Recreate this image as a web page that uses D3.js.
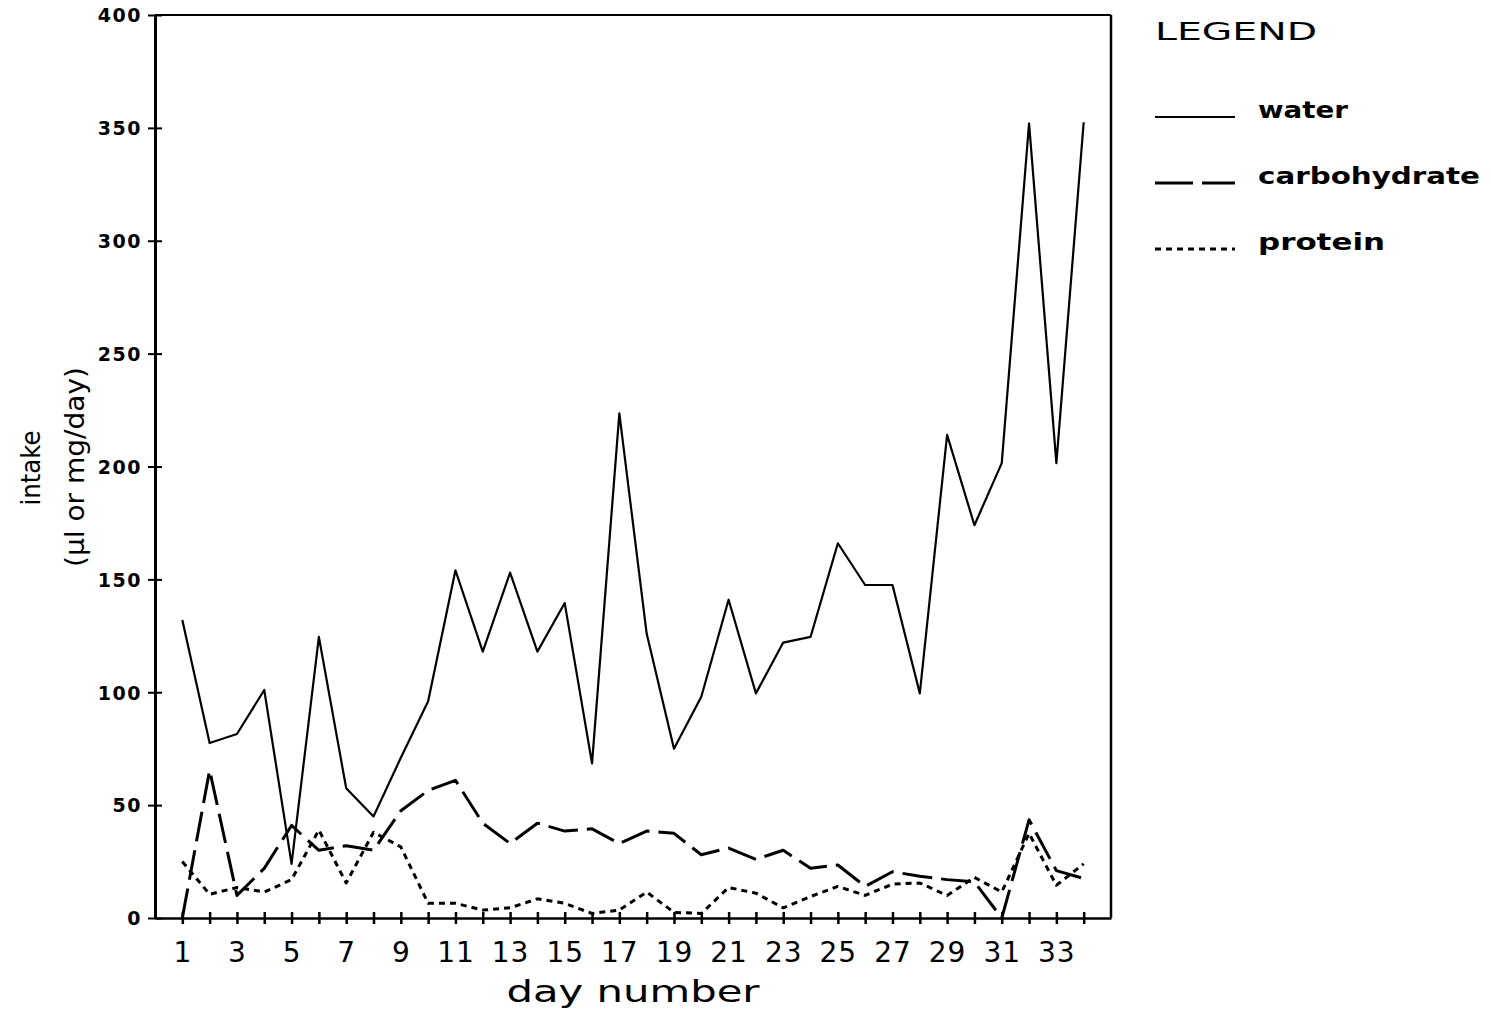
<!DOCTYPE html>
<html>
<head>
<meta charset="utf-8">
<script src="https://cdn.jsdelivr.net/npm/d3@7"></script>
<style>
  html, body { margin: 0; padding: 0; background: #fff; }
  svg { display: block; }
  text { font-family: "DejaVu Sans", sans-serif; fill: #000; }
</style>
</head>
<body>
<svg id="chart" width="1491" height="1013"></svg>
<script>
// Daily intake per day number
const days = d3.range(1, 35);
const water = [132, 77.5, 81.5, 101, 24, 124.5, 57.5, 45, 71, 96, 154, 118, 153, 118, 139.5, 68.5,
  223.5, 126, 75, 98, 141, 99.5, 122, 124.5, 166, 147.5, 147.5, 99.5, 214, 174, 201.5, 352, 201.5, 352.5];
const carbohydrate = [0, 65.5, 10, 22, 41, 30, 32, 30, 47.5, 56.5, 61, 42, 33, 42, 38.5, 39.5,
  33, 38.5, 37.5, 28, 31, 26, 30, 22, 23.5, 14, 20.5, 18.5, 17, 16, 0, 43.5, 21, 17.5];
const protein = [25, 10.5, 13.5, 11.5, 17, 39, 15.5, 38, 31.5, 6.5, 6.5, 3.5, 4.5, 8.5, 6.5, 2,
  3.5, 11.5, 2.5, 2, 13.5, 11, 4.5, 9.5, 14, 10, 15, 15.5, 10, 18, 11.5, 37.5, 14.5, 24];
const yTicks = d3.range(0, 401, 50);

const seriesList = [
  { name: "water", values: water, dash: null, width: 2.2 },
  { name: "carbohydrate", values: carbohydrate, dash: "30,9", width: 3 },
  { name: "protein", values: protein, dash: "6,5", width: 3 }
];

const svg = d3.select("#chart");
const x = d3.scaleLinear().domain([0, 35]).range([155, 1111]);
const y = d3.scaleLinear().domain([0, 400]).range([918, 15]);

// frame: top and right edges
svg.append("line").attr("x1", x(0)).attr("x2", x(35)).attr("y1", y(400)).attr("y2", y(400))
  .attr("stroke", "#000").attr("stroke-width", 2);
svg.append("line").attr("x1", x(35)).attr("x2", x(35)).attr("y1", y(400)).attr("y2", y(0))
  .attr("stroke", "#000").attr("stroke-width", 2.5);

// x axis
const xAxis = svg.append("g").attr("transform", `translate(0,${y(0)})`)
  .call(d3.axisBottom(x).tickValues(days).tickFormat(d => d % 2 ? d : "").tickSizeOuter(0));
xAxis.select(".domain").attr("stroke-width", 2.5);
xAxis.selectAll(".tick line").attr("y1", -6).attr("y2", 6).attr("stroke-width", 2.5);
xAxis.selectAll(".tick text").attr("y", 44).attr("dy", 0)
  .style("font-size", "28px").style("letter-spacing", "1px").attr("fill", "#000");

// y axis
const yAxis = svg.append("g").attr("transform", `translate(${x(0)},0)`)
  .call(d3.axisLeft(y).tickValues(yTicks).tickSizeOuter(0));
yAxis.select(".domain").attr("stroke-width", 3);
yAxis.selectAll(".tick line").attr("x1", -7).attr("x2", 7).attr("stroke-width", 2);
yAxis.selectAll(".tick text").attr("x", -13).attr("dy", "0.36em")
  .style("font-size", "19px").style("font-weight", "bold").style("letter-spacing", "1.5px").attr("fill", "#000");

// series lines
const line = d3.line().x((d, i) => x(days[i])).y(d => y(d));
seriesList.forEach(s => {
  svg.append("path").datum(s.values)
    .attr("d", line)
    .attr("fill", "none")
    .attr("stroke", "#000")
    .attr("stroke-width", s.width)
    .attr("stroke-linejoin", "round")
    .attr("stroke-dasharray", s.dash);
});

// axis titles
svg.append("text").attr("x", 633).attr("y", 1002).attr("text-anchor", "middle")
  .attr("textLength", 253).attr("lengthAdjust", "spacingAndGlyphs")
  .style("font-size", "30px").text("day  number");
svg.append("text").attr("transform", "translate(40,468) rotate(-90)").attr("text-anchor", "middle")
  .attr("textLength", 75).attr("lengthAdjust", "spacingAndGlyphs")
  .style("font-size", "27px").text("intake");
svg.append("text").attr("transform", "translate(84,467) rotate(-90)").attr("text-anchor", "middle")
  .attr("textLength", 200).attr("lengthAdjust", "spacingAndGlyphs")
  .style("font-size", "27px").text("(µl or mg/day)");

// legend
const legend = svg.append("g");
legend.append("text").attr("x", 1155).attr("y", 40)
  .attr("textLength", 162).attr("lengthAdjust", "spacingAndGlyphs")
  .style("font-size", "25px").text("LEGEND");
const legendRows = [
  { y: 117, textLen: 90 },
  { y: 183, textLen: 222 },
  { y: 249, textLen: 127 }
];
seriesList.forEach((s, i) => {
  const r = legendRows[i];
  legend.append("line").attr("x1", 1155).attr("x2", 1235).attr("y1", r.y).attr("y2", r.y)
    .attr("stroke", "#000").attr("stroke-width", s.width)
    .attr("stroke-dasharray", s.name === "carbohydrate" ? "38,9" : s.dash);
  legend.append("text").attr("x", 1258).attr("y", r.y + 1)
    .attr("textLength", r.textLen).attr("lengthAdjust", "spacingAndGlyphs")
    .style("font-size", "23px").style("font-weight", "bold").text(s.name);
});
</script>
</body>
</html>
